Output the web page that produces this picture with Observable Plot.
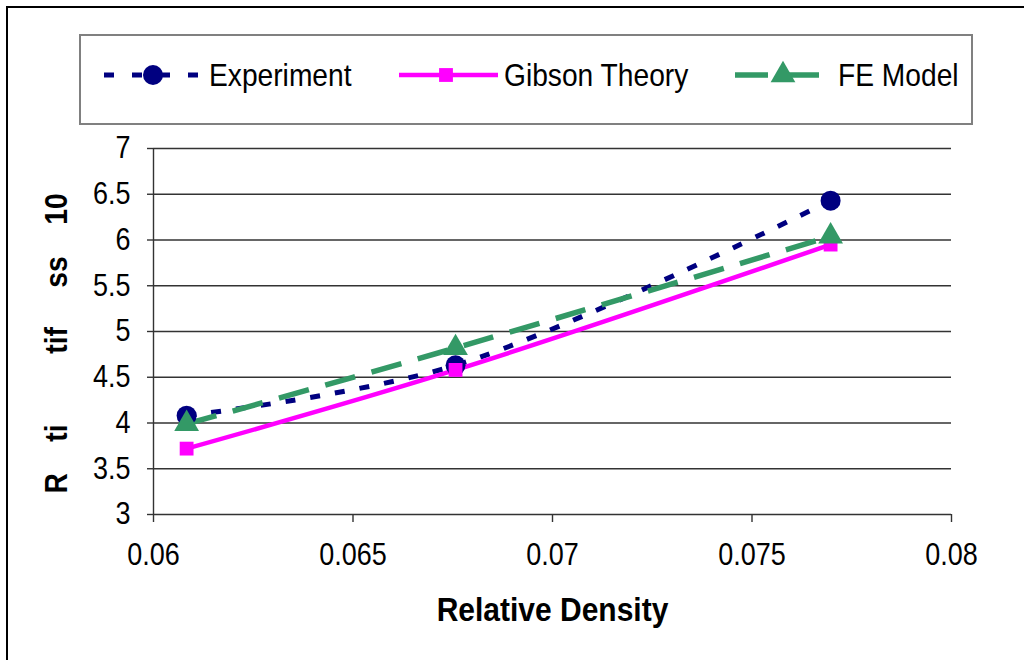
<!DOCTYPE html>
<html>
<head>
<meta charset="utf-8">
<script src="https://cdn.jsdelivr.net/npm/d3@7"></script>
<script src="https://cdn.jsdelivr.net/npm/@observablehq/plot@0.6"></script>
<style>
  html, body { margin: 0; padding: 0; background: #fff; overflow: hidden; }
  #wrap { position: relative; width: 1024px; height: 660px; overflow: hidden; font-family: "Liberation Sans", Arial, sans-serif; }
  #frame { position: absolute; left: 6px; top: 6px; width: 1100px; height: 800px; border-top: 2px solid #000; border-left: 2px solid #000; }
  #chart { position: absolute; left: 0; top: 0; }
  #legend { position: absolute; left: 0; top: 0; }
</style>
</head>
<body>
<div id="wrap">
  <div id="frame"></div>
  <div id="chart"></div>
  <svg id="legend" width="1024" height="140"></svg>
</div>
<script>
// ---- data ----
const density = [0.06083, 0.06757, 0.07697];
const experiment = [4.08, 4.63, 6.43];
const gibson = [3.72, 4.58, 5.95];
const feModel = [3.99, 4.82, 6.04];
const seriesNames = ["Experiment", "Gibson Theory", "FE Model"];
const xTicks = [0.06, 0.065, 0.07, 0.075, 0.08];
const xTickLabels = ["0.06", "0.065", "0.07", "0.075", "0.08"];
const yTicks = [3, 3.5, 4, 4.5, 5, 5.5, 6, 6.5, 7];
const yTickLabels = ["3", "3.5", "4", "4.5", "5", "5.5", "6", "6.5", "7"];
const xTitle = "Relative Density";
const yTitle = "R    ti         tif     ss    10";

const styles = {
  "Experiment": {color: "#000080", dash: "10,15", legDash: "10,18", width: 5, symbol: "circle", r: 10},
  "Gibson Theory": {color: "#FF00FF", dash: null, legDash: null, width: 4.5, symbol: "square", r: 7.8},
  "FE Model": {color: "#339966", dash: "31,17", legDash: "33,19", width: 5.5, symbol: "triangle", r: 9.2}
};

const rows = [];
[experiment, gibson, feModel].forEach((vals, i) => {
  vals.forEach((v, j) => rows.push({series: seriesNames[i], x: density[j], y: v}));
});

const FONT = "Liberation Sans, Arial, sans-serif";
const FS = 27;
const SVGNS = "http://www.w3.org/2000/svg";

function stretch(el, sx, sy) {
  const g = document.createElementNS(SVGNS, "g");
  el.parentNode.insertBefore(g, el);
  g.appendChild(el);
  const b = g.getBBox();
  const cx = b.x + b.width / 2, cy = b.y + b.height / 2;
  g.setAttribute("transform", `translate(${cx},${cy}) scale(${sx},${sy}) translate(${-cx},${-cy})`);
}

const lineMarks = [];
const dotMarks = [];
for (const s of seriesNames) {
  const st = styles[s];
  const data = rows.filter(d => d.series === s);
  lineMarks.push(Plot.line(data, {x: "x", y: "y", stroke: st.color, strokeWidth: st.width,
    strokeDasharray: st.dash || undefined, curve: "catmull-rom", strokeLinecap: "butt"}));
  dotMarks.push(Plot.dot(data, {x: "x", y: "y", fill: st.color, stroke: "none", r: st.r, symbol: st.symbol}));
}

const chart = Plot.plot({
  width: 1024,
  height: 660,
  marginLeft: 153,
  marginRight: 73,
  marginTop: 148,
  marginBottom: 146,
  style: {fontFamily: FONT, fontSize: FS + "px", background: "transparent", color: "#000"},
  x: {domain: [0.06, 0.08]},
  y: {domain: [3, 7]},
  marks: [
    Plot.ruleY(yTicks, {stroke: "#333", strokeWidth: 1.4}),
    Plot.ruleX([0.06], {stroke: "#333", strokeWidth: 1.4}),
    Plot.axisY({ticks: yTicks, tickFormat: (d, i) => yTickLabels[i], tickSize: 6, tickPadding: 17, label: null, fontSize: FS, stroke: "#333", strokeWidth: 1.4}),
    Plot.axisX({ticks: xTicks, tickFormat: (d, i) => xTickLabels[i], tickSize: 8, tickPadding: 22, label: null, fontSize: FS, stroke: "#333", strokeWidth: 1.4}),
    ...lineMarks,
    ...dotMarks,
    Plot.text([xTitle], {frameAnchor: "bottom", dy: 96, lineAnchor: "middle", text: d => d, fontWeight: "bold", fontSize: 30, fill: "#000", className: "xtitle"}),
    Plot.text([yTitle], {frameAnchor: "left", dx: -97, dy: 12, rotate: -90, textAnchor: "middle", text: d => d, fontWeight: "bold", fontSize: 28.3, fill: "#000", className: "ytitle"})
  ]
});
chart.querySelectorAll("text").forEach(t => t.style.whiteSpace = "pre");
document.getElementById("chart").appendChild(chart);

chart.querySelectorAll('g[aria-label$="tick label"] text').forEach(t => stretch(t, 1, 1.15));
chart.querySelectorAll('g.xtitle text').forEach(t => stretch(t, 1, 1.1));
chart.querySelectorAll('g.ytitle text').forEach(t => stretch(t, 1.12, 1));

// ---- legend (drawn in an SVG overlay, from the same series definitions) ----
const leg = d3.select("#legend");
leg.append("rect").attr("x", 80).attr("y", 35).attr("width", 892).attr("height", 89)
  .attr("fill", "none").attr("stroke", "#808080").attr("stroke-width", 2);
const legItems = [
  {name: "Experiment", x0: 104, x1: 200, mx: 153, tx: 209},
  {name: "Gibson Theory", x0: 399, x1: 498, mx: 446, tx: 504},
  {name: "FE Model", x0: 735, x1: 819, mx: 783, tx: 838}
];
const ly = 75;
for (const it of legItems) {
  const st = styles[it.name];
  leg.append("line").attr("x1", it.x0).attr("x2", it.x1).attr("y1", ly).attr("y2", ly)
    .attr("stroke", st.color).attr("stroke-width", st.width)
    .attr("stroke-dasharray", st.legDash);
  const sym = st.symbol === "circle" ? d3.symbolCircle : st.symbol === "square" ? d3.symbolSquare : d3.symbolTriangle;
  leg.append("path").attr("transform", `translate(${it.mx},${ly})`)
    .attr("d", d3.symbol(sym, Math.PI * st.r * st.r)()).attr("fill", st.color);
  const t = leg.append("text").attr("x", it.tx).attr("y", ly).attr("dy", "0.35em")
    .attr("font-family", FONT).attr("font-size", 28.2).attr("fill", "#000").text(it.name);
  stretch(t.node(), 1, 1.12);
}
</script>
</body>
</html>
